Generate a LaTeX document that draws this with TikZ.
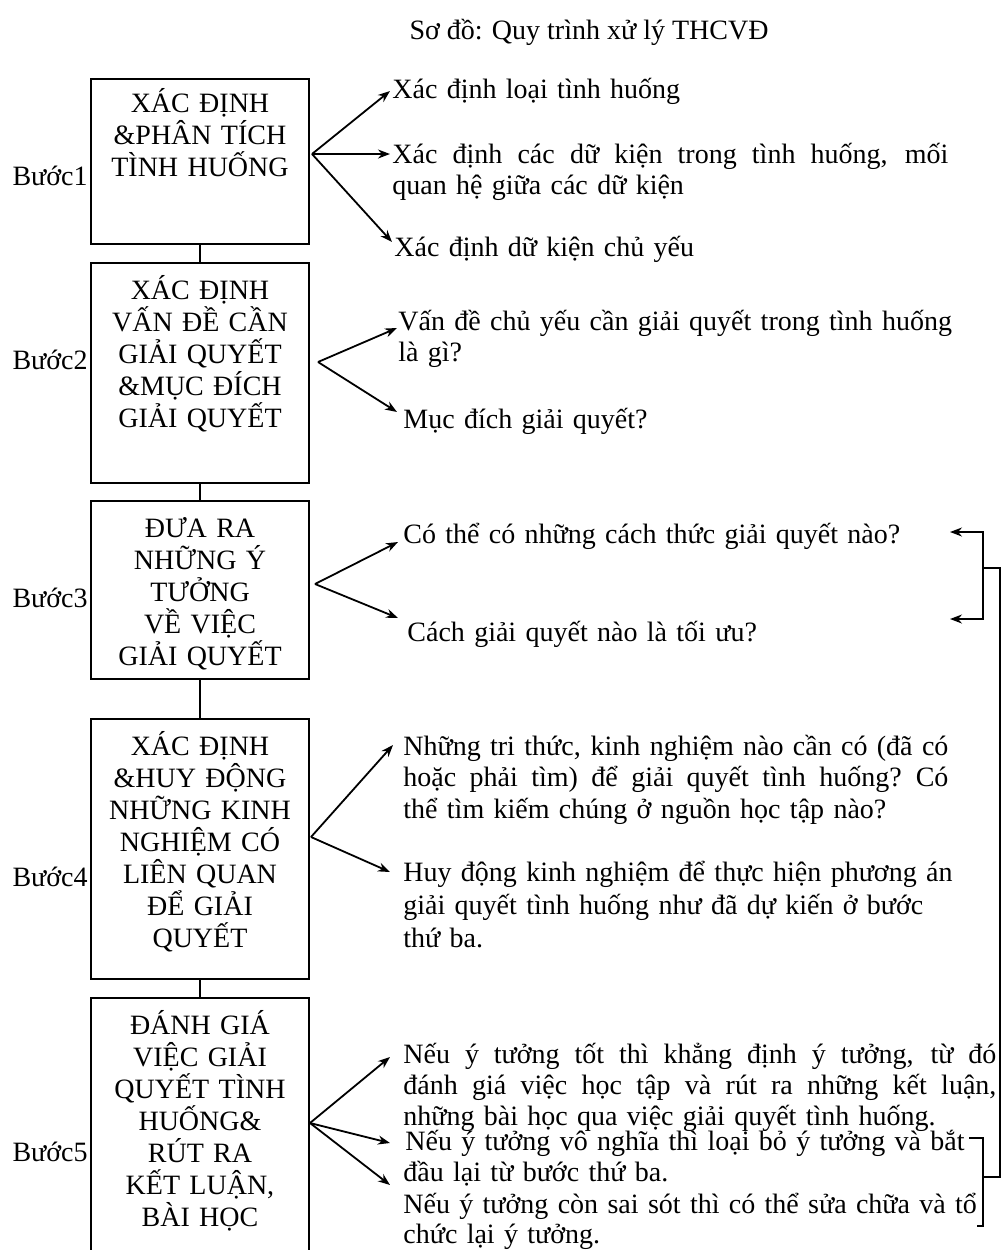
\documentclass[tikz,border=0pt]{standalone}
\usepackage{fontspec}
\setmainfont{Liberation Serif}
\usepackage{tikz}
\usetikzlibrary{positioning,arrows.meta}

\newcommand{\fullline}[2]{\leavevmode\hbox to #1{\spaceskip=0.25em plus 2em\relax #2}}

\begin{document}
\begin{tikzpicture}[x=0.5pt, y=-0.5pt, >={Stealth[length=6pt,width=4.5pt]},
  every node/.style={font=\fontsize{14}{16}\selectfont},
  stepbox/.style={rectangle, draw, line width=0.9pt, minimum width=109pt, inner sep=0pt, anchor=north},
  steptext/.style={text width=108pt, align=center, inner sep=0pt, anchor=base},
  steplabel/.style={anchor=base east, inner sep=0pt},
  note/.style={anchor=base west, inner sep=0pt, align=left, text width=300pt,
    font=\fontsize{14}{15.5}\selectfont},
  link/.style={line width=0.9pt}]

\clip (0,0) rectangle (1001,1250);

% Title
\node[anchor=base] at (589,39) (title) {Sơ đồ: Quy trình xử lý THCVĐ};

% Step boxes
\node[stepbox, minimum height=82.5pt] at (200,78) (b1) {};
\node[stepbox, minimum height=110pt] at (200,262) (b2) {};
\node[stepbox, minimum height=89pt] at (200,500) (b3) {};
\node[stepbox, minimum height=130pt] at (200,718) (b4) {};
\node[stepbox, minimum height=130pt] at (200,997) (b5) {};

% Box texts
\node[steptext] at (200,112) (s1) {XÁC ĐỊNH\\\&PHÂN TÍCH\\TÌNH HUỐNG};
\node[steptext] at (200,299) (s2) {XÁC ĐỊNH\\VẤN ĐỀ CẦN\\GIẢI QUYẾT\\\&MỤC ĐÍCH\\GIẢI QUYẾT};
\node[steptext] at (200,537) (s3) {ĐƯA RA\\NHỮNG Ý\\TƯỞNG\\VỀ VIỆC\\GIẢI QUYẾT};
\node[steptext] at (200,755) (s4) {XÁC ĐỊNH\\\&HUY ĐỘNG\\NHỮNG KINH\\NGHIỆM CÓ\\LIÊN QUAN\\ĐỂ GIẢI\\QUYẾT};
\node[steptext] at (200,1034) (s5) {ĐÁNH GIÁ\\VIỆC GIẢI\\QUYẾT TÌNH\\HUỐNG\&\\RÚT RA\\KẾT LUẬN,\\BÀI HỌC};

% Step labels
\node[steplabel] at (88,185) (l1) {Bước1};
\node[steplabel] at (88,369) (l2) {Bước2};
\node[steplabel] at (88,607) (l3) {Bước3};
\node[steplabel] at (88,886) (l4) {Bước4};
\node[steplabel] at (88,1161) (l5) {Bước5};

% Links between boxes
\foreach \a/\b in {b1/b2,b2/b3,b3/b4,b4/b5}
  \draw[link] (\a) -- (\b);

% Notes for step 1
\node[note] at (392,98) (t11) {Xác định loại tình huống};
\node[note] at (392,163) (t12) {\fullline{278pt}{Xác định các dữ kiện trong tình huống, mối}\\quan hệ giữa các dữ kiện};
\node[note] at (394,256) (t13) {Xác định dữ kiện chủ yếu};

% Notes for step 2
\node[note] at (398,330) (t21) {Vấn đề chủ yếu cần giải quyết trong tình huống\\là gì?};
\node[note] at (403,428) (t22) {Mục đích giải quyết?};

% Notes for step 3
\node[note] at (403,543) (t31) {Có thể có những cách thức giải quyết nào?};
\node[note] at (407,641) (t32) {Cách giải quyết nào là tối ưu?};

% Notes for step 4
\node[note, font=\fontsize{14}{15.75}\selectfont] at (403,755) (t41) {\fullline{272.5pt}{Những tri thức, kinh nghiệm nào cần có (đã có}\\\fullline{272.5pt}{hoặc phải tìm) để giải quyết tình huống? Có}\\thể tìm kiếm chúng ở nguồn học tập nào?};
\node[note, font=\fontsize{14}{16.5}\selectfont] at (403,881) (t42) {Huy động kinh nghiệm để thực hiện phương án\\giải quyết tình huống như đã dự kiến ở bước\\thứ ba.};

% Notes for step 5
\node[note] at (403,1063) (t51) {\fullline{296.5pt}{Nếu ý tưởng tốt thì khẳng định ý tưởng, từ đó}\\\fullline{296.5pt}{đánh giá việc học tập và rút ra những kết luận,}\\những bài học qua việc giải quyết tình huống.};
\node[note] at (403,1150) (t52) {\hspace{1pt}Nếu ý tưởng vô nghĩa thì loại bỏ ý tưởng và bắt\\đầu lại từ bước thứ ba.};
\node[note, font=\fontsize{14}{15}\selectfont] at (403,1213) (t53) {Nếu ý tưởng còn sai sót thì có thể sửa chữa và tổ\\chức lại ý tưởng.};

% Fork points and arrow tips
\coordinate (f1) at (312,154);
\coordinate (f2) at (318,362);
\coordinate (f3) at (315,584);
\coordinate (f4) at (311,837);
\coordinate (f5) at (310,1123);
\coordinate (p11) at (390,91);
\coordinate (p12) at (390,154);
\coordinate (p13) at (392,242);
\coordinate (p21) at (397,328);
\coordinate (p22) at (397,412);
\coordinate (p31) at (398,542);
\coordinate (p32) at (398,618);
\coordinate (p41) at (393,745);
\coordinate (p42) at (390,872);
\coordinate (p51) at (390,1057);
\coordinate (p52) at (390,1143);
\coordinate (p53) at (390,1185);

% Arrows from boxes to notes
\foreach \f/\p in {f1/p11,f1/p12,f1/p13,f2/p21,f2/p22,f3/p31,f3/p32,f4/p41,f4/p42,f5/p51,f5/p52,f5/p53}
  \draw[->,link] (\f) -- (\p);

% Loop back from step 5 to step 3
\draw[<->,link] (950,532) -| (983,575) |- (950,619);
\draw[link] (983,568) -- (1000,568) -- (1000,1177) -- (983,1177);
\draw[link] (969,1138) -| (983,1226) -- (977,1226);

\end{tikzpicture}
\end{document}
